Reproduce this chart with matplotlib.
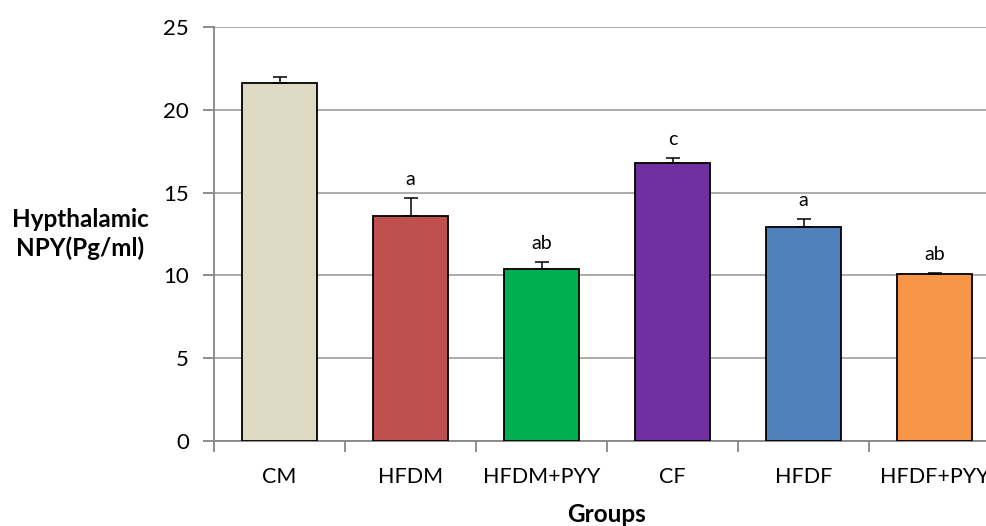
import matplotlib
matplotlib.use("Agg")
import matplotlib.pyplot as plt
import numpy as np

plt.rcParams["font.family"] = ["Lato", "DejaVu Sans"]

groups = ["CM", "HFDM", "HFDM+PYY", "CF", "HFDF", "HFDF+PYY"]
means = [21.6, 13.6, 10.4, 16.8, 12.9, 10.1]
errors = [0.4, 1.1, 0.4, 0.3, 0.5, 0.05]
letters = ["", "a", "ab", "c", "a", "ab"]
colors = ["#ddd9c3", "#c0504d", "#00b050", "#7030a0", "#4f81bd", "#f79646"]
yticks = [0, 5, 10, 15, 20, 25]

W, H = 987, 526
fig = plt.figure(figsize=(W / 100, H / 100), dpi=100)
# axes run past the right edge, as in the source picture
ax = fig.add_axes([214 / W, (H - 441) / H, 786 / W, 414 / H])

x = np.arange(len(groups))
ax.bar(x, means, width=0.58, color=colors, edgecolor="black", linewidth=1.3, zorder=3)
ax.errorbar(x, means, yerr=[np.zeros(len(errors)), errors], fmt="none",
            ecolor="black", elinewidth=1.1, capsize=5, capthick=1.1, zorder=4)

for xi, m, e, t in zip(x, means, errors, letters):
    if t:
        ax.annotate(t, (xi, m + e), xytext=(0, 7), textcoords="offset points",
                    ha="center", va="bottom", fontsize=14)

ax.set_xlim(-0.5, len(groups) - 0.5)
ax.set_ylim(0, 25)
ax.set_yticks(yticks)
ax.set_yticklabels([str(v) for v in yticks], fontsize=16)
ax.yaxis.grid(True, color="#a6a6a6", linewidth=1.3, zorder=0)
ax.set_axisbelow(True)

ax.set_xticks(x)
ax.set_xticklabels(groups, fontsize=15.5)
ax.set_xticks(np.arange(len(groups) + 1) - 0.5, minor=True)
ax.tick_params(axis="x", which="major", length=0, pad=19)
ax.tick_params(axis="x", which="minor", length=8, width=1.3, color="#868686", direction="out")
ax.tick_params(axis="y", length=8, width=1.3, color="#868686", direction="out", pad=10)

for s in ["top", "right"]:
    ax.spines[s].set_visible(False)
for s in ["left", "bottom"]:
    ax.spines[s].set_color("#868686")
    ax.spines[s].set_linewidth(1.3)

fig.text(80 / W, 1 - 234 / H, "Hypthalamic\nNPY(Pg/ml)", ha="center", va="center",
         fontsize=17.5, fontweight="bold", linespacing=1.3)
fig.text(607 / W, 1 - 514 / H, "Groups", ha="center", va="center",
         fontsize=17.5, fontweight="bold")

fig.savefig("out.png", dpi=100)
